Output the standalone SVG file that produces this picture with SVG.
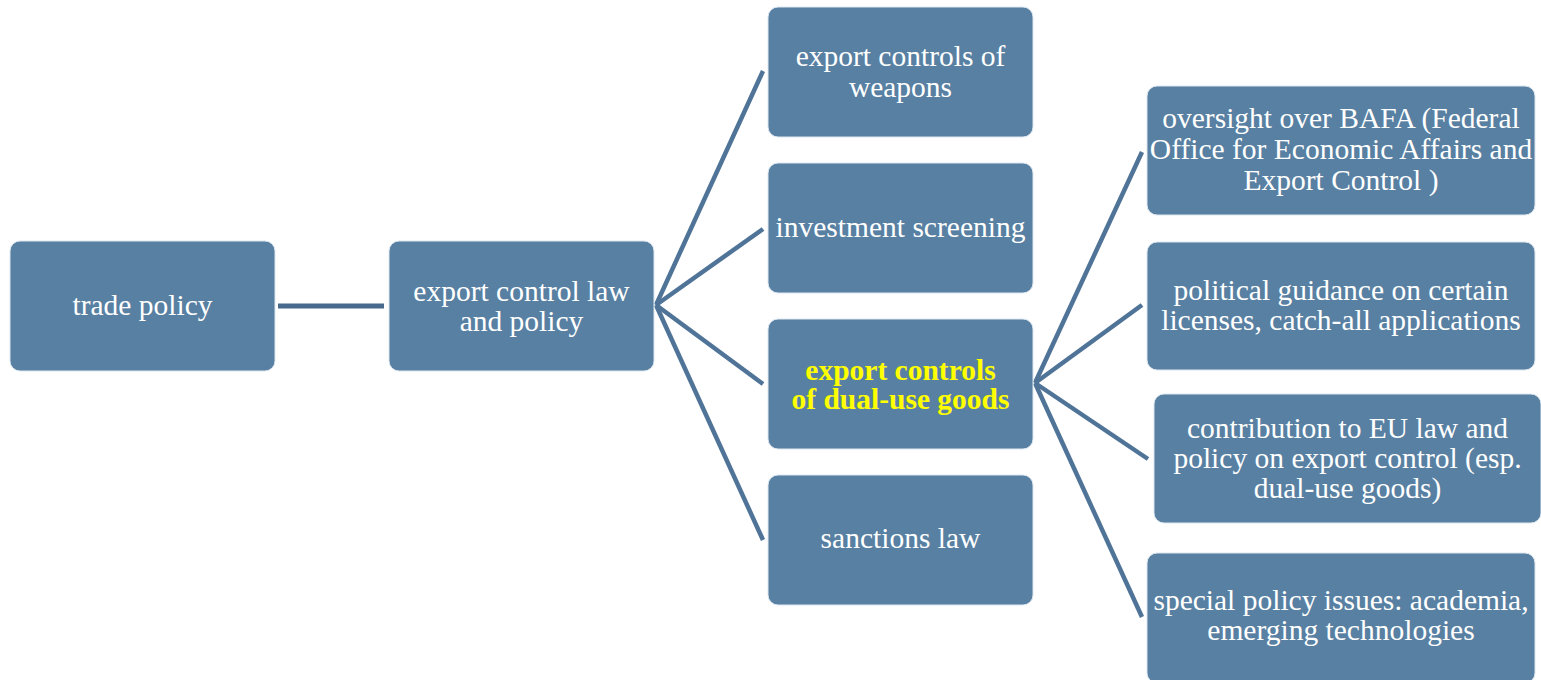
<svg xmlns="http://www.w3.org/2000/svg" width="1541" height="680" viewBox="0 0 1541 680">
<style>
.box{fill:#5880A2;stroke:#DCE6EF;stroke-width:1}
.t{font-family:"Liberation Serif","Times New Roman",serif;font-size:29.5px;fill:#FFFFFF;text-anchor:middle}
.hl{fill:#FFFF00;font-weight:bold}
.c{stroke:#4F7498;stroke-width:4.5;fill:none;stroke-linecap:butt}
</style>
<rect width="1541" height="680" fill="#FFFFFF"/>
<g id="connectors">
<line class="c" x1="278" y1="306" x2="384" y2="306" style="stroke:#46698C;stroke-width:5"/>
<line class="c" x1="656" y1="305" x2="763" y2="71"/>
<line class="c" x1="656" y1="305" x2="763" y2="229"/>
<line class="c" x1="656" y1="305" x2="763" y2="384"/>
<line class="c" x1="656" y1="305" x2="763" y2="540"/>
<line class="c" x1="1035" y1="383" x2="1142" y2="152"/>
<line class="c" x1="1035" y1="383" x2="1142" y2="305"/>
<line class="c" x1="1035" y1="383" x2="1148" y2="459"/>
<line class="c" x1="1035" y1="383" x2="1142" y2="617"/>
</g>
<g id="n-trade">
<rect class="box" x="10" y="241" width="265" height="130" rx="10"/>
<text class="t" x="142.5" y="315">trade policy</text>
</g>
<g id="n-ecl">
<rect class="box" x="389" y="241" width="265" height="130" rx="10"/>
<text class="t" x="521.5" y="301">export control law</text>
<text class="t" x="521.5" y="331">and policy</text>
</g>
<g id="n-weapons">
<rect class="box" x="768" y="7" width="265" height="130" rx="10"/>
<text class="t" x="900.5" y="66">export controls of</text>
<text class="t" x="900.5" y="97">weapons</text>
</g>
<g id="n-invest">
<rect class="box" x="768" y="163" width="265" height="130" rx="10"/>
<text class="t" x="900.5" y="237">investment screening</text>
</g>
<g id="n-dualuse">
<rect class="box" x="768" y="319" width="265" height="130" rx="10"/>
<text class="t hl" x="900.5" y="380">export controls</text>
<text class="t hl" x="900.5" y="409">of dual-use goods</text>
</g>
<g id="n-sanctions">
<rect class="box" x="768" y="475" width="265" height="130" rx="10"/>
<text class="t" x="900.5" y="548">sanctions law</text>
</g>
<g id="n-bafa">
<rect class="box" x="1147" y="86" width="388" height="129" rx="10"/>
<text class="t" x="1341" y="128">oversight over BAFA (Federal</text>
<text class="t" x="1341" y="159">Office for Economic Affairs and</text>
<text class="t" x="1341" y="190">Export Control )</text>
</g>
<g id="n-guidance">
<rect class="box" x="1147" y="242" width="388" height="128" rx="10"/>
<text class="t" x="1341" y="300">political guidance on certain</text>
<text class="t" x="1341" y="330">licenses, catch-all applications</text>
</g>
<g id="n-eu">
<rect class="box" x="1154" y="394" width="387" height="129" rx="10"/>
<text class="t" x="1347.5" y="438">contribution to EU law and</text>
<text class="t" x="1347.5" y="468">policy on export control (esp.</text>
<text class="t" x="1347.5" y="498">dual-use goods)</text>
</g>
<g id="n-special">
<rect class="box" x="1147" y="553" width="388" height="130" rx="10"/>
<text class="t" x="1341" y="610">special policy issues: academia,</text>
<text class="t" x="1341" y="640">emerging technologies</text>
</g>
</svg>
